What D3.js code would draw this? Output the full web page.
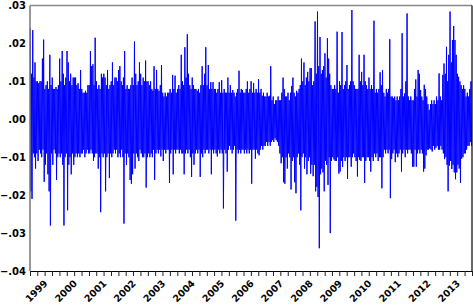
<!DOCTYPE html>
<html>
<head>
<meta charset="utf-8">
<script src="https://cdn.jsdelivr.net/npm/d3@7"></script>
<style>
  body { margin: 0; background: #fff; }
  svg { display: block; font-family: "DejaVu Sans", Verdana, sans-serif; }
</style>
</head>
<body>
<svg id="chart" width="473" height="306"></svg>
<script>
// Half-month highs / lows, one row per year (1999..2013)
const years = d3.range(1999, 2014);

const highs = [
  [.024,.012,.0235,.011,.015,.010,.010,.0095,.010,.010,.016,.021,.008,.009,.010,.008,.017,.009,.011,.008,.008,.0085,.008,.009],
  [.016,.010,.018,.012,.009,.011,.018,.015,.010,.012,.009,.011,.011,.011,.009,.0095,.008,.013,.008,.007,.007,.0075,.007,.009],
  [.009,.018,.014,.0145,.009,.0215,.010,.008,.009,.008,.012,.011,.012,.011,.009,.013,.008,.009,.010,.015,.009,.011,.011,.010],
  [.013,.014,.010,.009,.011,.018,.008,.009,.008,.008,.009,.011,.009,.0205,.012,.009,.010,.015,.012,.009,.011,.010,.0155,.010],
  [.010,.009,.010,.008,.0075,.014,.008,.013,.008,.0075,.009,.0143,.007,.006,.007,.006,.007,.007,.008,.007,.0117,.008,.0115,.007],
  [.008,.009,.008,.017,.010,.009,.019,.011,.0224,.012,.009,.008,.011,.009,.008,.008,.0075,.008,.007,.009,.014,.009,.012,.019],
  [.009,.0143,.008,.0098,.008,.0098,.008,.008,.007,.008,.0098,.007,.0103,.007,.008,.007,.007,.011,.007,.009,.007,.0077,.007,.006],
  [.007,.008,.0128,.007,.008,.0077,.007,.007,.008,.010,.007,.008,.010,.007,.0095,.007,.008,.007,.0106,.007,.008,.0062,.007,.006],
  [.006,.007,.006,.0062,.014,.005,.006,.004,.005,.005,.006,.005,.005,.007,.011,.008,.006,.006,.007,.005,.007,.0088,.011,.007],
  [.006,.0075,.007,.008,.009,.016,.010,.015,.009,.011,.0125,.010,.0135,.0135,.009,.010,.0258,.012,.0284,.014,.0217,.012,.013,.014],
  [.0174,.011,.0214,.016,.012,.009,.008,.008,.009,.008,.0231,.007,.010,.009,.023,.008,.009,.010,.0143,.008,.009,.010,.0288,.010],
  [.009,.008,.008,.008,.017,.010,.0125,.009,.017,.010,.009,.008,.011,.008,.009,.008,.026,.007,.008,.007,.008,.0124,.009,.013],
  [.007,.006,.008,.007,.008,.0211,.006,.006,.0055,.006,.005,.006,.005,.006,.008,.0227,.006,.0068,.010,.0279,.006,.005,.006,.005],
  [.005,.008,.0105,.006,.013,.012,.0077,.006,.005,.0091,.008,.006,.004,.0025,.004,.005,.004,.005,.004,.006,.005,.0121,.006,.005],
  [.0117,.0147,.012,.0191,.010,.017,.0284,.015,.0209,.0246,.0209,.017,.012,.0112,.010,.009,.008,.009,.008,.006,.007,.006,.008,.010]
];

const lows = [
  [-.019,-.021,-.009,-.010,-.013,-.009,-.011,-.008,-.009,-.010,-.008,-.0165,-.012,-.009,-.0145,-.019,-.028,-.009,-.012,-.008,-.009,-.016,-.010,-.009],
  [-.010,-.009,-.012,-.028,-.010,-.009,-.024,-.012,-.010,-.0145,-.009,-.012,-.010,-.009,-.010,-.009,-.010,-.009,-.009,-.008,-.010,-.009,-.008,-.009],
  [-.009,-.008,-.009,-.011,-.010,-.009,-.009,-.013,-.010,-.0245,-.009,-.010,-.009,-.019,-.010,-.009,-.0155,-.009,-.010,-.009,-.008,-.009,-.008,-.010],
  [-.009,-.010,-.008,-.010,-.0275,-.009,-.012,-.009,-.010,-.016,-.017,-.0145,-.009,-.013,-.009,-.010,-.011,-.008,-.009,-.010,-.010,-.009,-.018,-.010],
  [-.009,-.010,-.009,-.010,-.008,-.016,-.009,-.008,-.009,-.008,-.0098,-.008,-.011,-.008,-.009,-.008,-.008,-.0168,-.009,-.008,-.0145,-.008,-.009,-.008],
  [-.008,-.009,-.008,-.009,-.009,-.0145,-.009,-.008,-.009,-.008,-.010,-.0152,-.009,-.012,-.009,-.008,-.009,-.008,-.0152,-.009,-.010,-.008,-.009,-.008],
  [-.008,-.009,-.008,-.0145,-.008,-.009,-.008,-.009,-.0098,-.008,-.009,-.008,-.009,-.0235,-.008,-.009,-.0138,-.008,-.007,-.008,-.009,-.008,-.007,-.0267],
  [-.008,-.009,-.008,-.009,-.008,-.008,-.009,-.008,-.009,-.008,-.009,-.008,-.017,-.008,-.008,-.0104,-.008,-.009,-.0095,-.008,-.007,-.008,-.007,-.007],
  [-.006,-.007,-.006,-.007,-.006,-.0055,-.006,-.005,-.0055,-.006,-.007,-.009,-.0116,-.010,-.0166,-.017,-.010,-.013,-.009,-.010,-.0185,-.011,-.010,-.0166],
  [-.0195,-.010,-.009,-.012,-.024,-.010,-.009,-.013,-.010,-.0145,-.011,-.010,-.0143,-.012,-.015,-.012,-.019,-.0178,-.0205,-.034,-.0145,-.013,-.014,-.019],
  [-.011,-.012,-.0173,-.010,-.030,-.011,-.010,-.0106,-.011,-.011,-.010,-.0143,-.0138,-.011,-.0125,-.010,-.011,-.010,-.0157,-.010,-.010,-.0125,-.010,-.009],
  [-.010,-.011,-.0151,-.010,-.0107,-.011,-.010,-.010,-.0168,-.011,-.010,-.010,-.011,-.0138,-.010,-.011,-.009,-.010,-.009,-.011,-.010,-.010,-.0182,-.010],
  [-.008,-.009,-.008,-.009,-.008,-.0208,-.0105,-.009,-.008,-.0113,-.009,-.010,-.009,-.008,-.0138,-.009,-.008,-.010,-.008,-.009,-.008,-.008,-.009,-.0125],
  [-.0125,-.008,-.0125,-.009,-.008,-.009,-.008,-.009,-.0138,-.013,-.0095,-.008,-.008,-.0077,-.008,-.0085,-.007,-.008,-.0075,-.007,-.008,-.008,-.007,-.008],
  [-.009,-.0105,-.010,-.012,-.019,-.0122,-.011,-.0131,-.012,-.014,-.0158,-.014,-.012,-.013,-.0168,-.0104,-.010,-.009,-.009,-.008,-.007,-.007,-.006,-.007]
];

const yTicks = [.03, .02, .01, 0, -.01, -.02, -.03, -.04];

// build the series: within each half month the high comes first, then the low
const series = [];
years.forEach((yr, i) => {
  d3.range(24).forEach((k) => {
    const m = Math.floor(k / 2);
    const d0 = k % 2 ? 16 : 1;
    series.push({ date: new Date(yr, m, d0 + 3), v: highs[i][k] });
    series.push({ date: new Date(yr, m, d0 + 10), v: lows[i][k] });
  });
});

const svg = d3.select("#chart");
const L = 30, R = 472, T = 5.5, B = 271;

const x = d3.scaleTime()
  .domain([new Date(1999, 0, 1), new Date(2014, 0, 1)])
  .range([L, R]);
const y = d3.scaleLinear().domain([-0.04, 0.03]).range([B, T]);

const line = d3.line()
  .x((d) => x(d.date))
  .y((d) => y(d.v));

svg.append("path")
  .datum(series)
  .attr("fill", "none")
  .attr("stroke", "#0000ff")
  .attr("stroke-width", 1)
  .attr("d", line);

// frame
svg.append("line").attr("x1", L).attr("x2", R).attr("y1", T).attr("y2", T)
  .attr("stroke", "#888").attr("stroke-width", 1.5);
svg.append("line").attr("x1", R).attr("x2", R).attr("y1", T).attr("y2", B)
  .attr("stroke", "#000").attr("stroke-width", 1.2);
svg.append("line").attr("x1", L).attr("x2", L).attr("y1", T).attr("y2", B)
  .attr("stroke", "#777").attr("stroke-width", 1.5);

// x axis, quarterly ticks
const xAxis = d3.axisBottom(x)
  .ticks(d3.timeMonth.every(3))
  .tickSize(5)
  .tickSizeOuter(0)
  .tickFormat("");
const gx = svg.append("g").attr("transform", `translate(0,${B})`).call(xAxis);
gx.select(".domain").attr("stroke", "#000").attr("stroke-width", 1.2);
gx.selectAll(".tick line").attr("stroke", "#222");

// year labels, rotated
svg.append("g").selectAll("text")
  .data(years)
  .join("text")
  .attr("transform", (d) => `translate(${x(new Date(d, 6, 1)) + 3.5},284) rotate(-45)`)
  .attr("text-anchor", "end")
  .attr("font-size", 9.5)
  .attr("font-weight", "bold")
  .attr("fill", "#000")
  .text((d) => d);

// y labels
const fmt = (v) => d3.format(".2f")(v).replace("0.", ".");
svg.append("g").selectAll("text")
  .data(yTicks)
  .join("text")
  .attr("x", 26)
  .attr("y", (d) => y(d))
  .attr("dy", "0.36em")
  .attr("text-anchor", "end")
  .attr("font-size", 10)
  .attr("font-weight", "bold")
  .attr("fill", "#000")
  .text(fmt);
</script>
</body>
</html>
